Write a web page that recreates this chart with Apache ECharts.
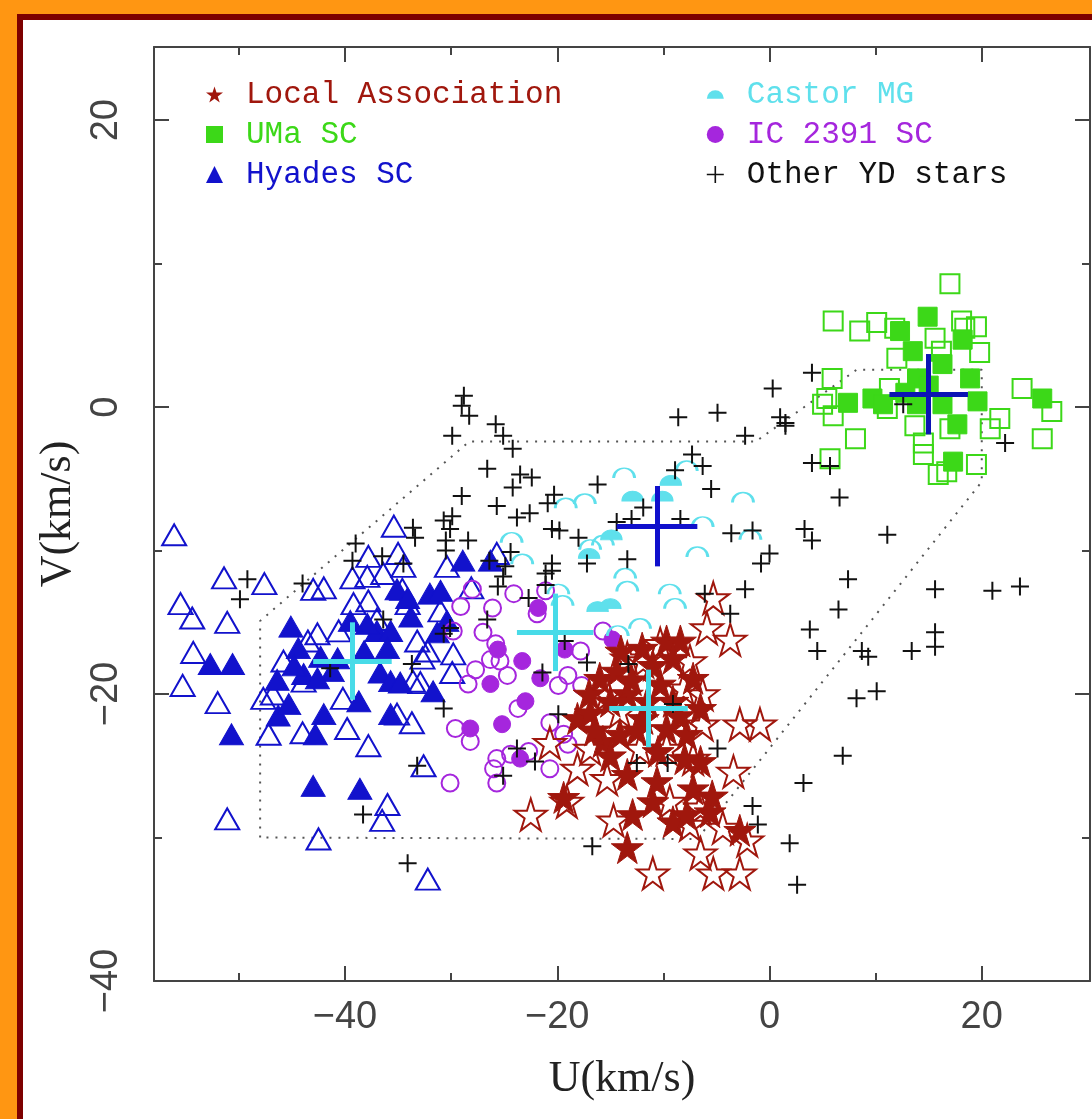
<!DOCTYPE html>
<html>
<head>
<meta charset="utf-8">
<script src="https://cdn.jsdelivr.net/npm/echarts@6/dist/echarts.min.js"></script>
<style>
  html, body { margin: 0; padding: 0; background: #ff9612; }
  #frame {
    position: absolute; left: 17px; top: 14px; width: 1075px; height: 1105px;
    box-sizing: border-box; background: #fff;
    border-left: 6px solid #7d0000; border-top: 6px solid #7d0000;
  }
  #main { position: absolute; left: 0; top: 0; width: 1092px; height: 1119px; }
</style>
</head>
<body>
<div id="frame"></div>
<div id="main"></div>
<script>
// U, V velocities (km/s)
const laOpen = [[-5.3,-13.3],[-3.7,-16.2],[-5.9,-15.4],[-2.8,-22.1],[-0.9,-22.1],[-6.3,-22.1],[-3.4,-25.4],[-22.5,-28.4],[-20.7,-23.4],[-18.1,-25.2],[-16.9,-23.8],[-15.3,-25.9],[-19.1,-27.5],[-14.7,-28.8],[-11.0,-32.5],[-6.5,-31.1],[-5.3,-32.5],[-2.8,-32.5],[-2.1,-30.2],[-7.5,-29.1],[-9.4,-27.5],[-6.5,-27.9],[-7.2,-24.5],[-12.2,-23.8],[-14.1,-21.2],[-15.3,-20.0],[-8.1,-19.6],[-6.3,-20.0],[-11.9,-17.7],[-10.3,-16.5],[-7.5,-17.7],[-13.4,-17.5],[-9.7,-23.8],[-4.4,-29.3]]
const laFilled = [[-18.1,-21.7],[-19.4,-27.2],[-13.4,-30.7],[-16.0,-18.9],[-14.4,-18.4],[-13.4,-20.0],[-15.7,-23.3],[-11.9,-21.7],[-9.7,-16.3],[-8.4,-16.3],[-9.1,-17.5],[-10.3,-19.3],[-9.1,-20.5],[-9.7,-22.4],[-13.4,-25.6],[-11.0,-27.5],[-9.1,-28.9],[-7.8,-28.4],[-5.6,-28.2],[-10.6,-26.1],[-7.8,-22.8],[-7.2,-18.9],[-11.5,-20.5],[-14.1,-22.8],[-12.9,-28.4],[-7.2,-26.6],[-16.9,-21.3],[-15.0,-24.3],[-6.5,-24.7],[-5.4,-27.1],[-2.8,-29.5],[-14.0,-17.0],[-12.0,-16.8],[-11.0,-18.0],[-13.0,-19.0],[-15.0,-20.5],[-17.0,-20.0],[-12.5,-22.5],[-10.5,-24.0],[-8.0,-24.5],[-6.5,-21.0],[-8.5,-21.5],[-16.5,-22.5]]

const umaOpen = [[17.0,8.6],[6.0,6.0],[8.5,5.3],[10.1,5.9],[11.8,5.5],[18.1,6.0],[19.5,5.6],[18.4,5.5],[19.8,3.8],[15.6,4.8],[12.0,3.4],[16.2,3.9],[5.9,2.0],[5.4,0.6],[5.0,0.2],[6.0,-0.6],[8.1,-2.2],[5.7,-3.6],[11.3,1.3],[11.1,-0.1],[13.7,-1.3],[14.5,-2.5],[14.5,-3.3],[15.9,-4.7],[16.7,-4.5],[17.0,-1.5],[19.5,-4.0],[20.8,-1.5],[21.7,-0.8],[23.8,1.3],[26.6,-0.3],[25.7,-2.2]]
const umaFilled = [[14.9,6.3],[12.3,5.3],[18.2,4.7],[13.5,3.9],[16.3,3.0],[13.9,2.0],[18.9,2.0],[7.4,0.3],[9.7,0.6],[10.7,0.2],[19.6,0.4],[16.3,0.2],[17.7,-1.2],[17.3,-3.8],[25.7,0.6],[13.9,0.2],[15.0,1.5],[12.8,1.0]]

const hyOpen = [[-56.1,-8.9],[-51.4,-11.9],[-47.6,-12.3],[-55.5,-13.7],[-54.4,-14.7],[-51.1,-15.0],[-54.3,-17.1],[-55.3,-19.4],[-52.0,-20.6],[-47.2,-22.8],[-51.1,-28.7],[-42.5,-30.1],[-32.2,-32.9],[-32.6,-25.0],[-36.0,-27.7],[-36.5,-28.8],[-37.8,-23.6],[-39.8,-22.4],[-44.0,-22.7],[-33.7,-22.0],[-35.1,-21.4],[-47.7,-20.3],[-46.8,-20.0],[-45.8,-17.7],[-43.5,-16.3],[-42.6,-15.8],[-40.6,-15.6],[-40.2,-20.3],[-43.9,-19.1],[-43.0,-12.7],[-42.0,-12.6],[-39.3,-11.9],[-37.9,-11.8],[-39.2,-13.7],[-37.8,-13.5],[-36.4,-11.6],[-35.4,-8.3],[-37.8,-10.4],[-35.0,-10.2],[-34.5,-11.1],[-37.0,-14.8],[-34.6,-12.7],[-34.1,-13.7],[-33.2,-16.3],[-32.7,-17.5],[-32.2,-17.0],[-33.6,-19.1],[-32.9,-19.2],[-29.8,-17.2],[-29.9,-18.5],[-30.4,-11.1],[-28.1,-12.6],[-25.7,-10.2],[-31.0,-14.2]]
const hyFilled = [[-52.7,-17.9],[-50.6,-17.9],[-50.7,-22.8],[-45.1,-15.3],[-46.4,-19.0],[-46.3,-21.5],[-45.3,-20.7],[-44.4,-16.8],[-43.9,-18.6],[-42.0,-21.4],[-42.8,-22.8],[-43.0,-26.4],[-38.6,-26.6],[-38.7,-20.5],[-35.7,-21.4],[-35.1,-12.7],[-34.1,-13.3],[-37.0,-15.6],[-37.9,-15.1],[-35.7,-15.6],[-39.5,-14.9],[-36.7,-18.5],[-35.7,-19.1],[-34.8,-19.2],[-41.2,-18.4],[-42.6,-18.9],[-40.7,-17.5],[-32.0,-13.0],[-31.0,-12.8],[-30.4,-14.9],[-31.3,-15.7],[-31.7,-19.8],[-28.9,-10.7],[-26.3,-10.7],[-42.3,-17.4],[-44.8,-18.0],[-38.2,-17.0],[-36.0,-16.8],[-33.8,-14.6]]

const castorOpen = [[-13.7,-4.6],[-7.8,-4.1],[-2.5,-6.3],[-19.2,-6.7],[-17.4,-6.4],[-6.3,-8.0],[-6.8,-10.1],[-1.8,-8.9],[-24.3,-9.1],[-23.3,-10.6],[-13.4,-12.5],[-8.9,-13.7],[-19.5,-13.5],[-16.9,-9.6],[-15.7,-9.3],[-19.9,-12.7],[-13.6,-11.6],[-9.4,-12.7],[-12.2,-15.1],[-14.3,-15.6]]
const castorFilled = [[-9.3,-5.1],[-12.9,-6.2],[-10.1,-6.2],[-14.9,-8.9],[-17.0,-10.2],[-16.2,-13.9],[-15.0,-13.7]]

const icOpen = [[-28.0,-12.7],[-29.1,-13.9],[-26.1,-14.0],[-24.1,-13.0],[-21.9,-14.4],[-27.0,-15.7],[-29.8,-15.6],[-27.7,-18.3],[-28.4,-19.3],[-24.7,-18.7],[-26.3,-17.6],[-25.4,-17.7],[-25.8,-16.5],[-19.9,-19.4],[-19.0,-18.7],[-17.7,-19.4],[-23.7,-21.0],[-20.7,-22.0],[-19.4,-22.8],[-19.0,-23.5],[-28.2,-23.3],[-29.6,-22.4],[-25.7,-24.5],[-26.0,-25.2],[-24.4,-24.2],[-22.7,-24.0],[-25.7,-26.2],[-30.1,-26.2],[-20.7,-25.2],[-15.7,-15.6],[-21.1,-12.8],[-17.8,-17.0]]
const icFilled = [[-21.8,-14.0],[-25.6,-16.9],[-23.3,-17.7],[-26.3,-19.3],[-23.0,-20.5],[-25.2,-22.1],[-28.2,-22.4],[-23.5,-24.5],[-21.6,-18.9],[-19.3,-16.9],[-14.8,-16.2]]

const otherYD = [[-28.8,0.8],[-29.0,0.1],[-28.3,-0.6],[-29.9,-2.0],[-25.8,-1.2],[-25.1,-2.0],[-24.2,-2.9],[-26.6,-4.3],[-23.5,-4.7],[-22.4,-4.9],[-24.2,-5.6],[-29.0,-6.2],[-25.7,-6.9],[-23.8,-7.7],[-22.6,-7.4],[-20.3,-6.1],[-20.9,-6.7],[-20.5,-8.5],[-19.8,-8.6],[-18.0,-9.1],[-16.2,-5.4],[-8.6,-0.7],[-4.9,-0.4],[-2.3,-2.0],[0.3,1.3],[1.0,-0.7],[1.5,-1.3],[-7.3,-3.3],[-6.3,-4.1],[-5.5,-5.7],[-8.9,-4.4],[-11.9,-7.0],[-13.0,-7.8],[-14.4,-8.0],[-8.4,-7.8],[-3.6,-8.8],[-1.6,-8.6],[0.0,-10.2],[-0.8,-10.9],[-13.4,-10.6],[-17.2,-10.9],[-20.5,-10.9],[-20.5,-11.4],[-21.1,-12.4],[-24.4,-10.1],[-25.1,-11.8],[-28.4,-9.3],[-30.1,-8.5],[-30.5,-9.3],[-30.5,-10.0],[-33.4,-9.1],[-39.0,-9.5],[-39.3,-10.7],[-36.5,-10.4],[-26.4,-10.7],[-49.2,-12.0],[-49.9,-13.4],[-44.0,-12.3],[-33.6,-8.4],[-30.7,-7.9],[-29.9,-7.6],[-34.5,-10.9],[-36.4,-14.8],[-30.1,-15.4],[-30.7,-15.8],[-33.7,-17.9],[-41.4,-18.2],[-30.7,-21.0],[-33.2,-25.0],[-38.3,-28.4],[-34.1,-31.8],[-24.9,-11.1],[-21.1,-11.6],[-25.6,-12.5],[-22.7,-13.3],[-26.6,-14.8],[-19.3,-16.3],[-21.4,-18.5],[-17.2,-17.8],[-13.3,-17.9],[-9.1,-20.7],[-19.9,-21.4],[-23.8,-23.8],[-22.1,-24.7],[-25.1,-25.7],[-12.5,-24.8],[-9.6,-24.8],[-4.9,-23.8],[-6.1,-13.0],[-2.3,-12.7],[-3.7,-14.4],[-1.6,-27.8],[-1.1,-29.1],[-16.7,-30.6],[4.0,2.4],[12.6,0.2],[1.5,-1.1],[4.0,-3.9],[5.7,-4.1],[22.2,-2.5],[6.6,-6.3],[3.3,-8.5],[4.0,-9.3],[11.1,-8.9],[7.4,-12.0],[6.5,-14.1],[3.8,-15.5],[4.5,-17.0],[8.7,-17.0],[9.3,-17.4],[13.4,-17.0],[15.6,-12.7],[15.6,-15.7],[15.6,-16.7],[21.0,-12.8],[23.6,-12.5],[8.2,-20.3],[10.1,-19.8],[6.9,-24.3],[3.2,-26.2],[1.9,-30.4],[2.6,-33.3]]

// young disk boundary (dotted)
const boxU = [-48, -48, -28.3, -1.3, 8.2, 20, 20, -6.8, -48]
const boxV = [-30, -14.9, -2.4, -2.4, 2.6, 2.6, -5.2, -30.1, -30]

// group means with half-lengths of the cross arms
const meanNames = ['Hyades SC', 'IC 2391 SC', 'Local Association', 'Castor MG', 'UMa SC']
const meanU = [-39.3, -20.2, -11.4, -10.6, 15.0]
const meanV = [-17.7, -15.7, -21.0, -8.3, 0.9]
const meanDU = [3.7, 3.6, 3.7, 3.8, 3.7]
const meanDV = [2.7, 2.7, 2.7, 2.8, 2.8]

const xMajor = [-40, -20, 0, 20]
const xMinor = [-50, -30, -10, 10]
const yMajor = [-40, -20, 0, 20]
const yMinor = [-30, -10, 10]

const cLA = '#a0170d', cUMa = '#3cd818', cHy = '#1212cc', cCas = '#5fe0ec', cIC = '#a526dd'
const crossColors = ['#48dbe8', '#48dbe8', '#48dbe8', '#1010cc', '#0c14b4']

const starPath = 'path://M50,0L61.2,34.5L97.6,34.5L68.2,55.9L79.4,90.5L50,69.1L20.6,90.5L31.8,55.9L2.4,34.5L38.8,34.5Z'
const arcOpen = 'path://M0,10A10,10 0 0 1 20,10'
const arcFull = 'path://M0,10A10,10 0 0 1 20,10Z'
const plusPath = 'path://M0,5L10,5M5,0L5,10'

function pts(name, data, symbol, size, color, filled) {
  return {
    name: name,
    type: 'scatter',
    data: data,
    symbol: symbol,
    symbolSize: size,
    itemStyle: filled
      ? { color: color, borderColor: color, borderWidth: 1, opacity: 1 }
      : { color: 'rgba(0,0,0,0)', borderColor: color, borderWidth: 2, opacity: 1 },
    z: 3,
  }
}

var myChart = echarts.init(document.getElementById('main'))

let series = [
  pts('Hyades SC', hyOpen, 'triangle', [24, 21], cHy, false),
  pts('Hyades SC', hyFilled, 'triangle', [24, 21], cHy, true),
  pts('IC 2391 SC', icOpen, 'circle', 17, cIC, false),
  pts('IC 2391 SC', icFilled, 'circle', 17, cIC, true),
  pts('Castor MG', castorOpen, arcOpen, [21, 10], cCas, false),
  pts('Castor MG', castorFilled, arcFull, [21, 10], cCas, true),
  pts('Local Association', laOpen, starPath, 32, cLA, false),
  pts('Local Association', laFilled, starPath, 32, cLA, true),
  pts('UMa SC', umaOpen, 'rect', 19, cUMa, false),
  pts('UMa SC', umaFilled, 'rect', 19, cUMa, true),
  {
    name: 'Other YD stars',
    type: 'scatter',
    data: otherYD,
    symbol: plusPath,
    symbolSize: 18,
    itemStyle: { color: 'rgba(0,0,0,0)', borderColor: '#111', borderWidth: 2, opacity: 1 },
    z: 4,
  },
  {
    name: 'box',
    type: 'line',
    data: boxU.map((u, i) => [u, boxV[i]]),
    symbol: 'none',
    lineStyle: { color: '#555', width: 2, type: [2, 7] },
    z: 1,
  },
]

// mean crosses
meanNames.forEach((n, i) => {
  series.push({
    name: 'mean ' + n,
    type: 'line',
    data: [[meanU[i], meanV[i]]],
    symbol: 'none',
    z: 5,
    markLine: {
      silent: true,
      symbol: ['none', 'none'],
      label: { show: false },
      lineStyle: { color: crossColors[i], width: 5, type: 'solid', opacity: 1 },
      data: [
        [{ coord: [meanU[i] - meanDU[i], meanV[i]] }, { coord: [meanU[i] + meanDU[i], meanV[i]] }],
        [{ coord: [meanU[i], meanV[i] - meanDV[i]] }, { coord: [meanU[i], meanV[i] + meanDV[i]] }],
      ],
    },
  })
})

const axisCol = '#444'
const tickFont = { fontFamily: 'Liberation Sans', fontSize: 38, color: '#444' }
const nameFont = { fontFamily: 'Liberation Serif', fontSize: 44, color: '#222' }
const minus = (v) => String(v).replace('-', '\u2212')

function xAx(pos, ticks, len, withLabels, withLine) {
  return {
    type: 'value', position: pos, min: -58, max: 30.2,
    axisLine: { show: withLine, onZero: false, lineStyle: { color: axisCol, width: 2 } },
    axisTick: { show: true, inside: true, length: len, customValues: ticks, lineStyle: { color: axisCol, width: 2 } },
    axisLabel: withLabels ? Object.assign({ customValues: ticks, margin: 18, formatter: minus }, tickFont) : { show: false },
    splitLine: { show: false },
  }
}
function yAx(pos, ticks, len, withLabels, withLine) {
  return {
    type: 'value', position: pos, min: -40, max: 25.1,
    axisLine: { show: withLine, onZero: false, lineStyle: { color: axisCol, width: 2 } },
    axisTick: { show: true, inside: true, length: len, customValues: ticks, lineStyle: { color: axisCol, width: 2 } },
    axisLabel: withLabels ? Object.assign({ customValues: ticks, margin: 28, rotate: 90, formatter: minus }, tickFont) : { show: false },
    splitLine: { show: false },
  }
}

let xAxes = [
  xAx('bottom', xMajor, 15, true, true),
  xAx('bottom', xMinor, 8, false, false),
  xAx('top', xMajor, 15, false, true),
  xAx('top', xMinor, 8, false, false),
]
xAxes[0].name = 'U(km/s)'
xAxes[0].nameLocation = 'middle'
xAxes[0].nameGap = 76
xAxes[0].nameTextStyle = nameFont

let yAxes = [
  yAx('left', yMajor, 15, true, true),
  yAx('left', yMinor, 8, false, false),
  yAx('right', yMajor, 15, false, true),
  yAx('right', yMinor, 8, false, false),
]
yAxes[0].name = 'V(km/s)'
yAxes[0].nameLocation = 'middle'
yAxes[0].nameRotate = 90
yAxes[0].nameGap = 66
yAxes[0].nameTextStyle = nameFont

const legendText = { fontFamily: 'Liberation Mono', fontSize: 31, padding: [0, 0, 0, 18] }

let option = {
  animation: false,
  backgroundColor: 'transparent',
  grid: { left: 154, right: 2, top: 47, bottom: 138 },
  xAxis: xAxes,
  yAxis: yAxes,
  legend: [
    {
      orient: 'vertical', left: 201, top: 74, itemGap: 9, itemWidth: 17, itemHeight: 17,
      textStyle: legendText, selectedMode: false,
      data: [
        { name: 'Local Association', icon: starPath, itemStyle: { color: cLA, borderWidth: 0 }, textStyle: { color: cLA } },
        { name: 'UMa SC', icon: 'rect', itemStyle: { color: cUMa, borderWidth: 0 }, textStyle: { color: cUMa } },
        { name: 'Hyades SC', icon: 'triangle', itemStyle: { color: cHy, borderWidth: 0 }, textStyle: { color: cHy } },
      ],
    },
    {
      orient: 'vertical', left: 701, top: 74, itemGap: 9, itemWidth: 17, itemHeight: 17,
      textStyle: legendText, selectedMode: false,
      data: [
        { name: 'Castor MG', icon: arcFull, itemStyle: { color: cCas, borderWidth: 0 }, textStyle: { color: cCas } },
        { name: 'IC 2391 SC', icon: 'circle', itemStyle: { color: cIC, borderWidth: 0 }, textStyle: { color: cIC } },
        { name: 'Other YD stars', icon: plusPath, itemStyle: { color: 'rgba(0,0,0,0)', borderColor: '#111', borderWidth: 1.6 }, textStyle: { color: '#111' } },
      ],
    },
  ],
  series: series,
}
myChart.setOption(option)
</script>
</body>
</html>
